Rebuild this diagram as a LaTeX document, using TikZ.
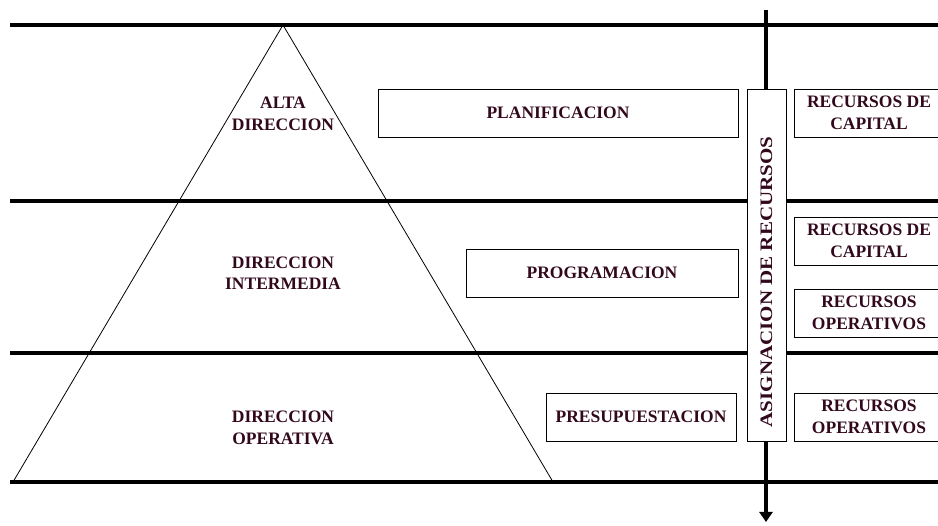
\documentclass[tikz,border=0pt]{standalone}
\usepackage{fontspec}
\setmainfont{Liberation Serif}
\usetikzlibrary{arrows.meta}
\definecolor{txtcol}{RGB}{50,8,28}

\begin{document}
\begin{tikzpicture}[x=1pt, y=1pt,
  every node/.style={font=\bfseries\fontsize{17.5}{21.5}\selectfont, text=txtcol, align=center},
  level/.style={line width=3.5pt},
  box/.style={draw, line width=0.8pt, minimum height=48pt, inner sep=0pt}]
  \useasboundingbox (0,0) rectangle (938,526);
  \clip (0,0) rectangle (938,526);

  % Levels
  \coordinate (L1) at (10,501);  \coordinate (R1) at (938,501);
  \coordinate (L2) at (10,325);  \coordinate (R2) at (938,325);
  \coordinate (L3) at (10,173);  \coordinate (R3) at (938,173);
  \coordinate (L4) at (10,44);   \coordinate (R4) at (938,44);
  \draw[level] (L1) -- (R1);
  \draw[level] (L2) -- (R2);
  \draw[level] (L3) -- (R3);
  \draw[level] (L4) -- (R4);

  % Pyramid
  \coordinate (apex) at (283,501);
  \coordinate (baseL) at (13,44);
  \coordinate (baseR) at (553,44);
  \draw[line width=0.8pt] (baseL) -- (apex) -- (baseR);

  \node (alta) at (283,412) {ALTA\\DIRECCION};
  \node (inter) at (283,253) {DIRECCION\\INTERMEDIA};
  \node (oper) at (283,98) {DIRECCION\\OPERATIVA};

  % Allocation axis
  \coordinate (top) at (766,516);
  \coordinate (bot) at (766,4);
  \draw[line width=4pt, -{Triangle[length=10pt,width=13pt]}] (top) -- (bot);
  \node[box, fill=white, minimum width=39pt, minimum height=352pt] (asig) at (766.5,261) {};
  \node[rotate=90] (asigtxt) at (766.5,244) {\scalebox{1.2}[1]{ASIGNACION DE RECURSOS}};

  % Processes
  \node[box, minimum width=360pt] (plan) at (558,413) {PLANIFICACION};
  \node[box, minimum width=272pt] (prog) at (602,253) {PROGRAMACION};
  \node[box, minimum width=190pt] (pres) at (641,109) {PRESUPUESTACION};

  % Resources
  \node[box, minimum width=150pt] (cap1) at (869,413) {RECURSOS DE\\CAPITAL};
  \node[box, minimum width=150pt] (cap2) at (869,285) {RECURSOS DE\\CAPITAL};
  \node[box, minimum width=150pt] (op1) at (869,213) {RECURSOS\\OPERATIVOS};
  \node[box, minimum width=150pt] (op2) at (869,109) {RECURSOS\\OPERATIVOS};
\end{tikzpicture}
\end{document}
